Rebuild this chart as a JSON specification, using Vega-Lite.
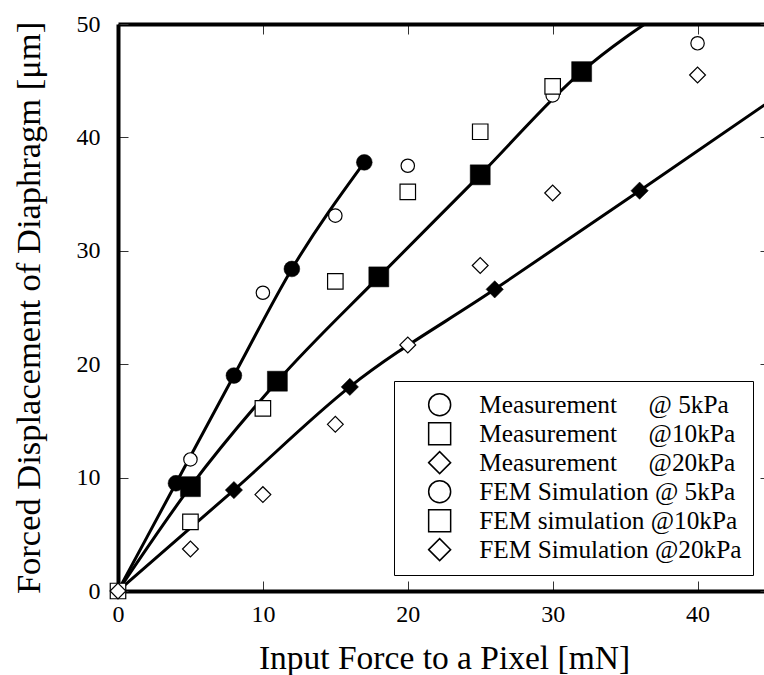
{
  "$schema": "https://vega.github.io/schema/vega-lite/v6.json",
  "width": 652,
  "height": 567,
  "autosize": "none",
  "padding": {"left": 118, "top": 24, "right": 0, "bottom": 84},
  "background": "white",
  "data": {"values": [
    {"series": "f5", "use": "pt", "x": 0, "y": 0},
    {"series": "f5", "use": "pt", "x": 5, "y": 11.6},
    {"series": "f5", "use": "pt", "x": 10, "y": 26.3},
    {"series": "f5", "use": "pt", "x": 15, "y": 33.1},
    {"series": "f5", "use": "pt", "x": 20, "y": 37.5},
    {"series": "f5", "use": "pt", "x": 30, "y": 43.7},
    {"series": "f5", "use": "pt", "x": 40, "y": 48.3},
    {"series": "f10", "use": "pt", "x": 0, "y": 0},
    {"series": "f10", "use": "pt", "x": 5, "y": 6.1},
    {"series": "f10", "use": "pt", "x": 10, "y": 16.1},
    {"series": "f10", "use": "pt", "x": 15, "y": 27.3},
    {"series": "f10", "use": "pt", "x": 20, "y": 35.2},
    {"series": "f10", "use": "pt", "x": 25, "y": 40.5},
    {"series": "f10", "use": "pt", "x": 30, "y": 44.5},
    {"series": "f20", "use": "pt", "x": 0, "y": 0},
    {"series": "f20", "use": "pt", "x": 5, "y": 3.7},
    {"series": "f20", "use": "pt", "x": 10, "y": 8.5},
    {"series": "f20", "use": "pt", "x": 15, "y": 14.7},
    {"series": "f20", "use": "pt", "x": 20, "y": 21.7},
    {"series": "f20", "use": "pt", "x": 25, "y": 28.7},
    {"series": "f20", "use": "pt", "x": 30, "y": 35.1},
    {"series": "f20", "use": "pt", "x": 40, "y": 45.5},
    {"series": "m5", "use": "line", "x": 0, "y": 0},
    {"series": "m5", "use": "both", "x": 4, "y": 9.5},
    {"series": "m5", "use": "both", "x": 8, "y": 19},
    {"series": "m5", "use": "both", "x": 12, "y": 28.4},
    {"series": "m5", "use": "both", "x": 17, "y": 37.8},
    {"series": "m10", "use": "line", "x": 0, "y": 0},
    {"series": "m10", "use": "both", "x": 5, "y": 9.2},
    {"series": "m10", "use": "both", "x": 11, "y": 18.5},
    {"series": "m10", "use": "both", "x": 18, "y": 27.7},
    {"series": "m10", "use": "both", "x": 25, "y": 36.7},
    {"series": "m10", "use": "both", "x": 32, "y": 45.8},
    {"series": "m10", "use": "line", "x": 38, "y": 51.4},
    {"series": "m20", "use": "line", "x": 0, "y": 0},
    {"series": "m20", "use": "both", "x": 8, "y": 8.9},
    {"series": "m20", "use": "both", "x": 16, "y": 18},
    {"series": "m20", "use": "both", "x": 26, "y": 26.6},
    {"series": "m20", "use": "both", "x": 36, "y": 35.3},
    {"series": "m20", "use": "line", "x": 45, "y": 43.2}
  ]},
  "layer": [
    {
      "transform": [{"filter": "datum.use !== 'pt'"}],
      "mark": {"type": "line", "stroke": "black", "strokeWidth": 3, "interpolate": "monotone", "clip": true},
      "encoding": {
        "x": {"field": "x", "type": "quantitative", "scale": {"domain": [0, 45], "nice": false},
              "axis": {"values": [0, 10, 20, 30, 40], "title": "Input Force to a Pixel [mN]", "orient": "bottom", "labelPadding": 21, "titlePadding": 16, "titleFontSize": 33.5}},
        "y": {"field": "y", "type": "quantitative", "scale": {"domain": [0, 50], "nice": false},
              "axis": {"values": [0, 10, 20, 30, 40, 50], "title": "Forced Displacement of Diaphragm [μm]", "orient": "left", "labelPadding": 28, "titlePadding": 30, "titleFontSize": 34.5}},
        "detail": {"field": "series"}
      }
    },
    {
      "transform": [{"filter": "datum.use !== 'line'"}],
      "mark": {"type": "point", "stroke": "black", "opacity": 1, "filled": true},
      "encoding": {
        "x": {"field": "x", "type": "quantitative", "scale": {"domain": [0, 45], "nice": false},
              "axis": {"values": [0, 10, 20, 30, 40], "title": null, "orient": "top", "labels": false}},
        "y": {"field": "y", "type": "quantitative", "scale": {"domain": [0, 50], "nice": false},
              "axis": {"values": [0, 10, 20, 30, 40, 50], "title": null, "orient": "right", "labels": false}},
        "fill": {"condition": {"test": "indexof(datum.series, 'm') === 0", "value": "black"}, "value": "white"},
        "strokeWidth": {"condition": {"test": "indexof(datum.series, 'm') === 0", "value": 0.5}, "value": 1.2},
        "size": {"condition": [
            {"test": "datum.series === 'm5'", "value": 250},
            {"test": "datum.series === 'm10'", "value": 400},
            {"test": "datum.series === 'm20'", "value": 300},
            {"test": "datum.series === 'f5'", "value": 180},
            {"test": "datum.series === 'f10'", "value": 240}
          ], "value": 250},
        "shape": {"field": "series", "type": "nominal",
          "scale": {"domain": ["m5", "m10", "m20", "f5", "f10", "f20"], "range": ["circle", "square", "diamond", "circle", "square", "diamond"]},
          "legend": {
            "title": null,
            "orient": "none",
            "legendX": 276,
            "legendY": 357,
            "fillColor": "white",
            "strokeColor": "black",
            "padding": 11,
            "rowPadding": 0,
            "symbolSize": 484,
            "symbolOffset": 22,
            "labelOffset": 27,
            "labelFont": "Liberation Serif",
            "labelFontSize": 25.3,
            "labelColor": "black",
            "labelLimit": 400,
            "labelExpr": "datum.value === 'm5' ? 'Measurement\u00a0\u00a0\u00a0\u00a0\u00a0@ 5kPa' : datum.value === 'm10' ? 'Measurement\u00a0\u00a0\u00a0\u00a0\u00a0@10kPa' : datum.value === 'm20' ? 'Measurement\u00a0\u00a0\u00a0\u00a0\u00a0@20kPa' : datum.value === 'f5' ? 'FEM Simulation @ 5kPa' : datum.value === 'f10' ? 'FEM simulation @10kPa' : 'FEM Simulation @20kPa'",
            "encode": {
              "legend": {"strokeWidth": {"value": 3}},
              "symbols": {
                "shape": {"condition": [
                    {"test": "datum.value === 'm5'", "value": "M-3,0H3M-0.8,0A0.8,0.8 0 1,1 0.8,0A0.8,0.8 0 1,1 -0.8,0Z"},
                    {"test": "datum.value === 'm10'", "value": "M-3,0H3M-0.75,-0.75H0.75V0.75H-0.75Z"},
                    {"test": "datum.value === 'm20'", "value": "M-3,0H3M-0.8,0L0,-0.62L0.8,0L0,0.62Z"},
                    {"test": "datum.value === 'f5'", "value": "M-0.55,0A0.55,0.55 0 1,1 0.55,0A0.55,0.55 0 1,1 -0.55,0Z"},
                    {"test": "datum.value === 'f10'", "value": "M-0.65,-0.65H0.65V0.65H-0.65Z"}
                  ], "value": "M-0.65,0L0,-0.65L0.65,0L0,0.65Z"},
                "fill": {"condition": {"test": "indexof(datum.value, 'm') === 0", "value": "black"}, "value": "white"},
                "stroke": {"value": "black"},
                "strokeWidth": {"condition": {"test": "indexof(datum.value, 'm') === 0", "value": 3}, "value": 1.2},
                "size": {"value": 484},
                "opacity": {"value": 1}
              }
            }
          }
        }
      }
    }
  ],
  "resolve": {"axis": {"x": "independent", "y": "independent"}},
  "config": {
    "view": {"stroke": null},
    "axis": {
      "grid": false,
      "domainColor": "black",
      "domainWidth": 4,
      "tickColor": "#333",
      "tickWidth": 1,
      "tickSize": -10,
      "labelFlush": false,
      "labelOverlap": false,
      "labelFont": "Liberation Serif",
      "labelFontSize": 24,
      "labelColor": "black",
      "labelPadding": 16,
      "titleFont": "Liberation Serif",
      "titleFontSize": 31,
      "titleFontWeight": "normal",
      "titleColor": "black"
    }
  }
}
